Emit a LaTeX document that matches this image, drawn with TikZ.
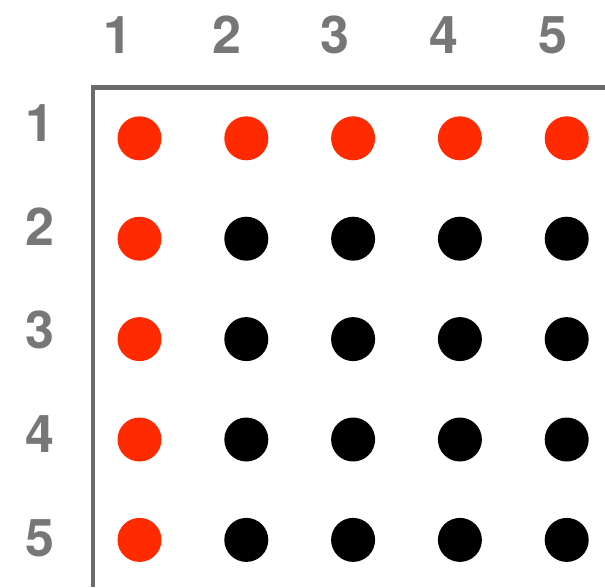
\documentclass[tikz,border=0pt]{standalone}
\usepackage{fontspec}
\setmainfont{TeX Gyre Heros}
\definecolor{dotred}{HTML}{FF2A00}
\definecolor{axisgray}{HTML}{6B6B6B}
\definecolor{labelgray}{HTML}{777777}
\tikzset{
    idx/.style={text=labelgray, inner sep=0pt, font=\fontsize{52}{52}\selectfont\bfseries},
    dot/.style={circle, inner sep=0pt, minimum size=44pt}
}
\begin{document}
\begin{tikzpicture}[x=1pt, y=-1pt]
    \useasboundingbox (0,0) rectangle (605,587);
    % Frame
    \coordinate (tr) at (605,87.5);
    \coordinate (tl) at (93,87.5);
    \coordinate (bl) at (93,587);
    \draw[axisgray, line width=4.5pt] (tr) -- (tl) -- (bl);

    % Indices
    \foreach \i in {1,...,5} {
        \node[idx] (col\i) at ({118+108.7*(\i-1)},35) {\i};
        \node[idx] (row\i) at (40,{123+103.7*(\i-1)}) {\i};
    }

    % Dots
    \foreach \r in {1,...,5} {
        \foreach \c in {1,...,5} {
            \ifnum\r=1 \def\col{dotred}\else\ifnum\c=1 \def\col{dotred}\else\def\col{black}\fi\fi
            \node[dot, fill=\col] (d\r\c) at ({139.5+106.8*(\c-1)},{138.3+100.4*(\r-1)}) {};
        }
    }
\end{tikzpicture}
\end{document}
